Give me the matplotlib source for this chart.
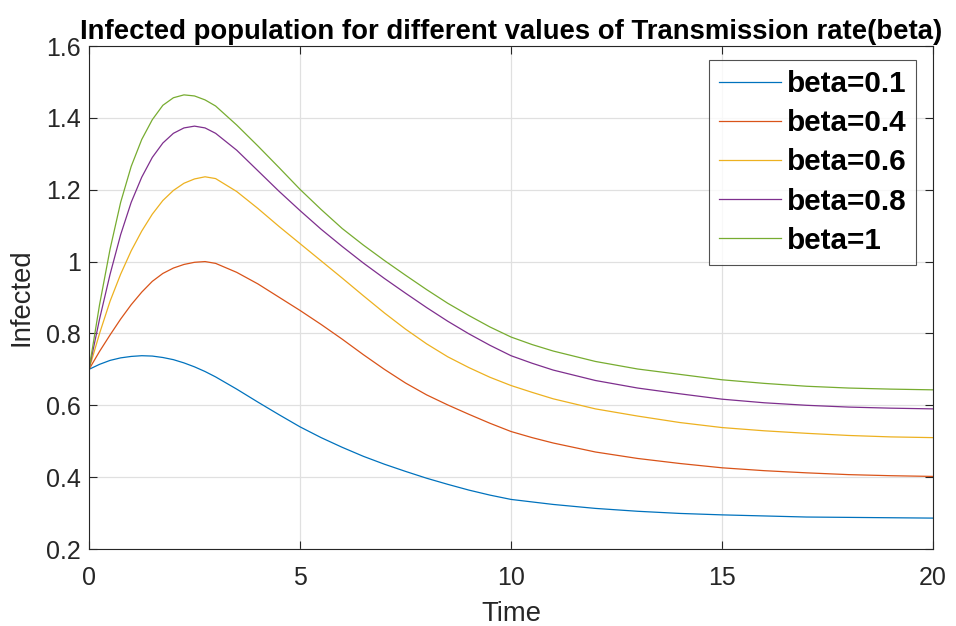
import numpy as np
import matplotlib.pyplot as plt

plt.rcParams['font.family'] = ['Liberation Sans', 'DejaVu Sans']

t = [0, 0.25, 0.5, 0.75, 1, 1.25, 1.5, 1.75, 2, 2.25, 2.5, 2.75, 3, 3.5, 4, 4.5,
     5, 5.5, 6, 6.5, 7, 7.5, 8, 8.5, 9, 9.5, 10, 10.5, 11, 12, 13, 14, 15, 16, 17, 18, 19, 20]

i_beta01 = [0.700, 0.714, 0.725, 0.732, 0.736, 0.738, 0.737, 0.733, 0.727, 0.718, 0.707, 0.694, 0.679, 0.645, 0.609, 0.574,
            0.540, 0.510, 0.483, 0.458, 0.436, 0.416, 0.397, 0.380, 0.364, 0.350, 0.338, 0.331, 0.324, 0.313, 0.305, 0.299, 0.295, 0.292, 0.289, 0.288, 0.287, 0.286]
i_beta04 = [0.700, 0.750, 0.796, 0.840, 0.880, 0.915, 0.945, 0.967, 0.982, 0.992, 0.998, 1.000, 0.995, 0.970, 0.938, 0.901,
            0.864, 0.825, 0.784, 0.741, 0.700, 0.662, 0.629, 0.601, 0.575, 0.550, 0.527, 0.510, 0.495, 0.470, 0.452, 0.438, 0.426, 0.418, 0.412, 0.407, 0.404, 0.402]
i_beta06 = [0.700, 0.800, 0.890, 0.965, 1.030, 1.085, 1.132, 1.170, 1.198, 1.218, 1.230, 1.236, 1.231, 1.195, 1.148, 1.098,
            1.050, 1.002, 0.954, 0.905, 0.857, 0.812, 0.771, 0.735, 0.705, 0.678, 0.655, 0.636, 0.618, 0.590, 0.570, 0.552, 0.538, 0.529, 0.522, 0.516, 0.512, 0.510]
i_beta08 = [0.700, 0.840, 0.965, 1.075, 1.165, 1.235, 1.290, 1.330, 1.357, 1.372, 1.377, 1.372, 1.357, 1.310, 1.253, 1.196,
            1.142, 1.090, 1.042, 0.996, 0.953, 0.912, 0.872, 0.834, 0.799, 0.767, 0.738, 0.717, 0.698, 0.669, 0.648, 0.632, 0.617, 0.607, 0.600, 0.595, 0.592, 0.590]
i_beta1 = [0.700, 0.880, 1.035, 1.165, 1.265, 1.340, 1.395, 1.435, 1.456, 1.464, 1.461, 1.450, 1.433, 1.380, 1.322, 1.262,
           1.201, 1.145, 1.092, 1.046, 1.003, 0.962, 0.922, 0.884, 0.850, 0.818, 0.790, 0.769, 0.751, 0.722, 0.701, 0.686, 0.671, 0.661, 0.653, 0.648, 0.645, 0.643]

labels = ['beta=0.1', 'beta=0.4', 'beta=0.6', 'beta=0.8', 'beta=1']
colors = ['#0072BD', '#D95319', '#EDB120', '#7E2F8E', '#77AC30']
series = [i_beta01, i_beta04, i_beta06, i_beta08, i_beta1]

fig = plt.figure(figsize=(9.56, 6.26), dpi=100)
ax = fig.add_axes([0.0931, 0.123, 0.8829, 0.8035])

for y, c, lab in zip(series, colors, labels):
    ax.plot(t, y, color=c, linewidth=0.9, label=lab)

ax.set_xlim(0, 20)
ax.set_ylim(0.2, 1.6)
ax.set_xticks([0, 5, 10, 15, 20])
ax.set_yticks([0.2, 0.4, 0.6, 0.8, 1.0, 1.2, 1.4, 1.6])
ax.set_yticklabels(['0.2', '0.4', '0.6', '0.8', '1', '1.2', '1.4', '1.6'])
ax.grid(True, color='#e0e0e0', linewidth=0.9)
ax.set_axisbelow(True)
ax.tick_params(direction='in', length=6, width=0.8, top=True, right=True,
               labelsize=18, colors='#262626', pad=6)
ax.tick_params(axis='x', pad=12)
for s in ax.spines.values():
    s.set_color('#262626')
    s.set_linewidth(0.8)

ax.set_xlabel('Time', fontsize=19.8, color='#262626', labelpad=8)
ax.set_ylabel('Infected', fontsize=19.8, color='#262626', labelpad=8)
ax.set_title('Infected population for different values of Transmission rate(beta)',
             fontsize=19.8, fontweight='bold', pad=5)

leg = ax.legend(loc='upper right', bbox_to_anchor=(0.98, 0.972),
                prop={'weight': 'bold', 'size': 21.3}, frameon=True, fancybox=False,
                edgecolor='#262626', handlelength=2.1, labelspacing=0.38,
                handletextpad=0.2, borderpad=0.33, borderaxespad=0)
leg.get_frame().set_linewidth(0.8)

fig.savefig('out.png', dpi=100)
